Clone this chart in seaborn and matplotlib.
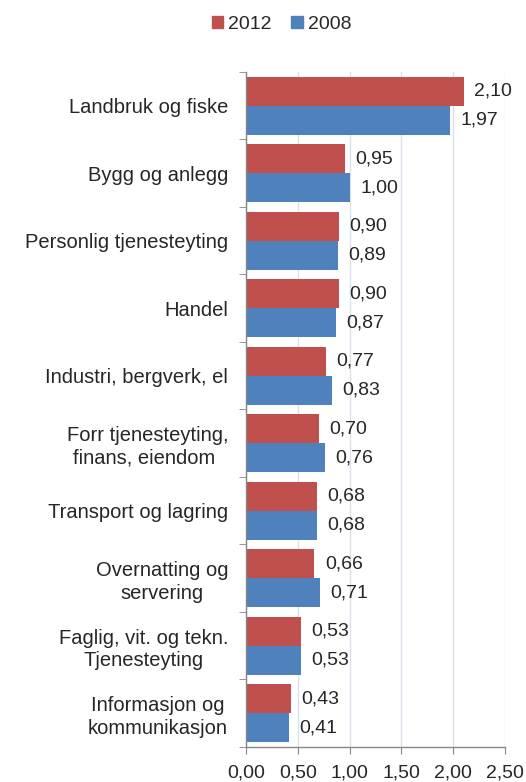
import pandas as pd
import matplotlib.pyplot as plt
import seaborn as sns
import numpy as np
from matplotlib.patches import Patch


# data

categories = ['Landbruk og fiske', 'Bygg og anlegg', 'Personlig tjenesteyting',
              'Handel', 'Industri, bergverk, el', 'Forr tjenesteyting,\nfinans, eiendom ',
              'Transport og lagring', 'Overnatting og\nservering',
              'Faglig, vit. og tekn.\nTjenesteyting', 'Informasjon og\nkommunikasjon']
v2012 = [2.10, 0.95, 0.90, 0.90, 0.77, 0.70, 0.68, 0.66, 0.53, 0.43]
v2008 = [1.97, 1.00, 0.89, 0.87, 0.83, 0.76, 0.68, 0.71, 0.53, 0.41]
years = ['2012', '2008']
xticks = [0, 0.5, 1.0, 1.5, 2.0, 2.5]

df = pd.DataFrame({'kategori': categories * 2,
                   'verdi': v2012 + v2008,
                   'aar': ['2012'] * len(categories) + ['2008'] * len(categories)})

sns.set_style('white')
plt.rcParams['font.family'] = ['Liberation Sans', 'DejaVu Sans']

fig = plt.figure(figsize=(5.26, 7.82), dpi=100)
ax = fig.add_axes([0.468, 0.045, 0.492, 0.863])

sns.barplot(data=df, x='verdi', y='kategori', hue='aar', hue_order=years,
            palette=['#C0504D', '#4F81BD'], orient='h', width=0.86, gap=0,
            saturation=1, linewidth=0, ax=ax, legend=False)

# value labels with comma decimals
for cont in ax.containers:
    ax.bar_label(cont, labels=[f'{b.get_width():.2f}'.replace('.', ',') for b in cont],
                 padding=7.5, fontsize=14)

ax.set_xlim(0, 2.5)
ax.set_ylim(9.5, -0.5)
ax.set_xticks(xticks)
ax.set_xticklabels([f'{t:.2f}'.replace('.', ',') for t in xticks], fontsize=14)
ax.set_yticks(range(len(categories)))
ax.set_yticklabels(categories, fontsize=14.5)
for lab in ax.get_yticklabels():
    lab.set_multialignment('center')
    lab.set_linespacing(1.25)
ax.set_yticks(np.arange(-0.5, 10, 1), minor=True)
ax.tick_params(axis='y', which='major', length=0, pad=13)
ax.tick_params(axis='y', which='minor', length=5, color='#868686', direction='out', left=True)
ax.tick_params(axis='x', length=5, color='#868686', direction='out', bottom=True, pad=8)
ax.set_xlabel('')
ax.set_ylabel('')

ax.grid(axis='x', color='#D9E1EC', linewidth=1)
ax.set_axisbelow(True)
for s in ['top', 'right']:
    ax.spines[s].set_visible(False)
for s in ['left', 'bottom']:
    ax.spines[s].set_color('#868686')
    ax.spines[s].set_linewidth(1)

# legend
handles = [Patch(color='#C0504D', label='2012'), Patch(color='#4F81BD', label='2008')]
fig.legend(handles=handles, loc='center', bbox_to_anchor=(0.535, 0.969), ncol=2,
           frameon=False, fontsize=14, handlelength=0.6, handleheight=0.6,
           handletextpad=0.25, columnspacing=1.0)

plt.savefig('out.png', dpi=100)
